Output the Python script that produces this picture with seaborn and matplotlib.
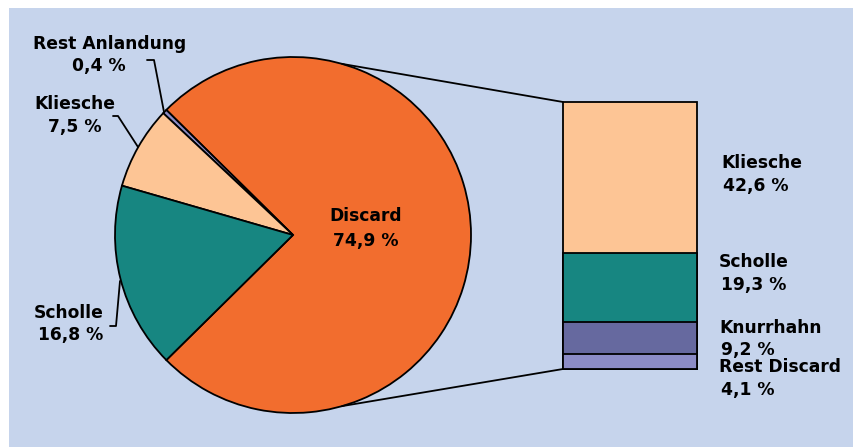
import numpy as np
import matplotlib
matplotlib.use("Agg")
import matplotlib.pyplot as plt
from matplotlib.patches import Rectangle
import seaborn as sns

# Gesamtfang: Anteile (%)
pie_labels = ["Discard", "Rest Anlandung", "Kliesche", "Scholle"]
pie_values = [74.9, 0.4, 7.5, 16.8]
pie_colors = ["#F26D2E", "#8C8CC6", "#FDC595", "#178681"]

# Zusammensetzung des Discards (%)
bar_labels = ["Kliesche", "Scholle", "Knurrhahn", "Rest Discard"]
bar_values = [42.6, 19.3, 9.2, 4.1]
bar_colors = ["#FDC595", "#178681", "#66699F", "#8C8CC6"]

def fmt(v):
    return f"{v:.1f}".replace(".", ",") + " %"

sns.set_theme(style="white")
plt.rcParams["font.family"] = ["DejaVu Sans"]

W, H = 854, 448
fig = plt.figure(figsize=(W / 100, H / 100), dpi=100, facecolor="white")
ax = fig.add_axes([0, 0, 1, 1])
ax.set_xlim(0, W)
ax.set_ylim(0, H)
ax.axis("off")

def py(y):
    """top-down pixel row -> axes y"""
    return H - y

ax.add_patch(Rectangle((9, py(447)), W - 9, 439, facecolor="#C6D4EC",
                       edgecolor="none", zorder=0))

# Kreisdiagramm
cx, cy, r = 293, py(235), 178
discard_share = pie_values[0] / sum(pie_values) * 360
start = -discard_share / 2
ax.pie(pie_values, colors=pie_colors, startangle=start, counterclock=True,
       center=(cx, cy), radius=r, frame=True,
       wedgeprops=dict(edgecolor="black", linewidth=1.3))
ax.set_xlim(0, W)
ax.set_ylim(0, H)
ax.set_aspect("equal")
ax.axis("off")

# Balken für den Discard
bx0, bx1, by0, by1 = 563, 697, 102, 369
bax = fig.add_axes([bx0 / W, 1 - by1 / H, (bx1 - bx0) / W, (by1 - by0) / H])
cum = np.cumsum(bar_values[::-1])[::-1]
for lab, c, col in zip(bar_labels, cum, bar_colors):
    sns.barplot(x=["Discard"], y=[c], color=col, width=1.0, ax=bax,
                edgecolor="black", linewidth=1.3, saturation=1)
for p in bax.patches:
    p.set_clip_on(False)
bax.set_xlim(-0.5, 0.5)
bax.set_ylim(0, sum(bar_values))
bax.axis("off")

# Verbindungslinien zwischen Kreis und Balken
ang = np.deg2rad(74)
ax.plot([cx + r * np.cos(ang), bx0], [cy + r * np.sin(ang), py(by0)],
        color="black", lw=1.3, zorder=5)
ax.plot([cx + r * np.cos(-ang), bx0], [cy + r * np.sin(-ang), py(by1)],
        color="black", lw=1.3, zorder=5)

txt = dict(fontsize=12.3, fontweight="bold", color="black", zorder=6)

# Beschriftung Kreis
ax.text(366, py(216), pie_labels[0], ha="center", va="center", **txt)
ax.text(366, py(241), fmt(pie_values[0]), ha="center", va="center", **txt)

ax.text(110, py(44), pie_labels[1], ha="center", va="center", **txt)
ax.text(99, py(66), fmt(pie_values[1]), ha="center", va="center", **txt)
ax.plot([147, 154, 164], [py(60), py(60), py(112)], color="black", lw=1.3)

ax.text(75, py(104), pie_labels[2], ha="center", va="center", **txt)
ax.text(75, py(127), fmt(pie_values[2]), ha="center", va="center", **txt)
ax.plot([113, 118, 138], [py(116), py(116), py(147)], color="black", lw=1.3)

ax.text(69, py(313), pie_labels[3], ha="center", va="center", **txt)
ax.text(71, py(335), fmt(pie_values[3]), ha="center", va="center", **txt)
ax.plot([110, 116, 120], [py(326), py(326), py(281)], color="black", lw=1.3)

# Beschriftung Balken
right_pos = [(721, 163, 186), (719, 262, 285), (719, 328, 350), (719, 367, 390)]
for lab, v, (x, y1, y2) in zip(bar_labels, bar_values, right_pos):
    ax.text(x, py(y1), lab, ha="left", va="center", **txt)
    ax.text(x + 2, py(y2), fmt(v), ha="left", va="center", **txt)

fig.savefig("out.png", dpi=100, facecolor="white")
